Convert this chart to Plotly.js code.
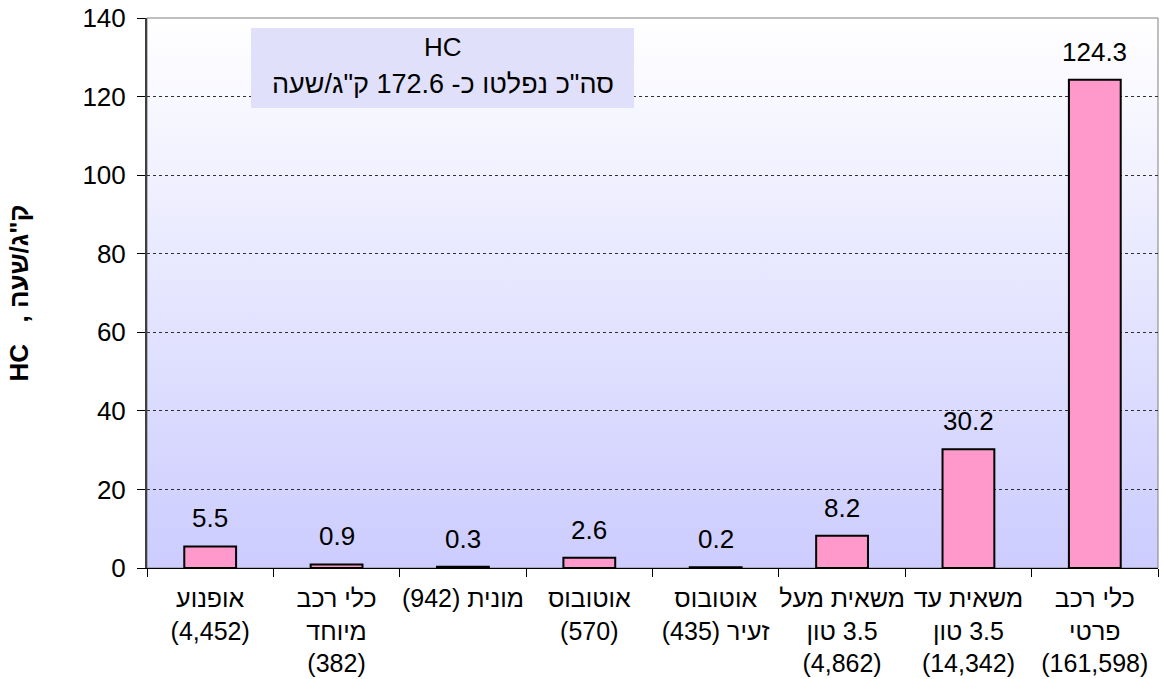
<!DOCTYPE html>
<html>
<head>
<meta charset="utf-8">
<script src="https://cdn.plot.ly/plotly-3.0.1.min.js"></script>
<style>html,body{margin:0;padding:0;background:#fff;}#chart{width:1162px;height:679px;}</style>
</head>
<body>
<div id="chart"></div>
<script>
// Bidi helper: force a line to right-to-left layout
const RTL = s => '\u202B' + s + '\u202C';

// Categories (left to right) with vehicle counts, as shown on the axis
const categories = [
  'אופנוע<br>(4,452)',
  'כלי רכב<br>מיוחד<br>(382)',
  RTL('מונית (942)'),
  'אוטובוס<br>(570)',
  'אוטובוס<br>' + RTL('זעיר (435)'),
  'משאית מעל<br>' + RTL('3.5 טון') + '<br>(4,862)',
  'משאית עד<br>' + RTL('3.5 טון') + '<br>(14,342)',
  'כלי רכב<br>פרטי<br>(161,598)'
];
// HC emissions, kg/hour
const hcValues = [5.5, 0.9, 0.3, 2.6, 0.2, 8.2, 30.2, 124.3];
const valueLabels = ['5.5', '0.9', '0.3', '2.6', '0.2', '8.2', '30.2', '124.3'];
const yTickVals = [0, 20, 40, 60, 80, 100, 120, 140];
const boxTitle = 'HC';
const boxSubtitle = RTL('סה"כ נפלטו כ- 172.6 ק"ג/שעה');
const yTitle = '\u00a0\u00a0\u00a0\u00a0\u00a0HC\u00a0\u00a0\u00a0, ק"ג/שעה';

const FONT = 'Liberation Sans, Arial, sans-serif';
const FS = 26;

const gradSvg = "<svg xmlns='http://www.w3.org/2000/svg' width='10' height='100' preserveAspectRatio='none'>" +
  "<defs><linearGradient id='g' x1='0' y1='0' x2='0' y2='1'>" +
  "<stop offset='0' stop-color='#ffffff'/><stop offset='1' stop-color='#ccccff'/>" +
  "</linearGradient></defs><rect width='10' height='100' fill='url(#g)'/></svg>";
const gradUri = 'data:image/svg+xml;charset=utf-8,' + encodeURIComponent(gradSvg);

const trace = {
  type: 'bar',
  x: categories,
  y: hcValues,
  marker: { color: '#ff99cc', line: { color: '#000000', width: 2 } },
  hoverinfo: 'x+y'
};

const valueAnnotations = categories.map((c, i) => ({
  x: c, y: hcValues[i], xref: 'x', yref: 'y',
  text: valueLabels[i], showarrow: false,
  yanchor: 'bottom', yshift: 11,
  font: { family: FONT, size: FS, color: '#000' }
}));

const layout = {
  width: 1162, height: 679,
  margin: { l: 147, r: 4, t: 18, b: 111 },
  paper_bgcolor: '#ffffff',
  plot_bgcolor: 'rgba(0,0,0,0)',
  showlegend: false,
  bargap: 0.59,
  font: { family: FONT, size: FS, color: '#000' },
  xaxis: {
    type: 'category',
    tickson: 'boundaries',
    tickangle: 0,
    automargin: false,
    ticks: 'outside', ticklen: 8, tickcolor: '#000', tickwidth: 1,
    showline: true, linecolor: '#000', linewidth: 1,
    showgrid: false,
    ticklabelstandoff: 8,
    tickfont: { family: FONT, size: 25, color: '#000' },
    fixedrange: true
  },
  yaxis: {
    range: [0, 140],
    tickvals: yTickVals,
    automargin: false,
    ticks: 'outside', ticklen: 8, tickcolor: '#000', tickwidth: 1,
    showline: true, linecolor: '#404040', linewidth: 2,
    showgrid: true, gridcolor: '#303030', gridwidth: 1, griddash: 'dot',
    zeroline: false,
    ticklabelstandoff: 6,
    tickfont: { family: FONT, size: FS, color: '#000' },
    title: { text: yTitle, font: { family: FONT, size: 26, color: '#000', weight: 'bold' }, standoff: 46 },
    fixedrange: true
  },
  images: [{
    source: gradUri, xref: 'paper', yref: 'paper',
    x: 0, y: 1, sizex: 1, sizey: 1, xanchor: 'left', yanchor: 'top',
    sizing: 'stretch', layer: 'below'
  }],
  shapes: [
    { type: 'rect', xref: 'paper', yref: 'paper', x0: 0, x1: 1, y0: 0, y1: 1,
      line: { color: '#808080', width: 1 }, fillcolor: 'rgba(0,0,0,0)', layer: 'below' },
    { type: 'rect', xref: 'paper', yref: 'paper', x0: 0.1029, x1: 0.4817, y0: 0.8364, y1: 0.9818,
      line: { width: 0 }, fillcolor: '#e0e0fa', layer: 'above' }
  ],
  annotations: valueAnnotations.concat([
    { xref: 'paper', yref: 'paper', x: 0.2923, y: 0.947, text: boxTitle, showarrow: false,
      xanchor: 'center', yanchor: 'middle', font: { family: FONT, size: FS, color: '#000' } },
    { xref: 'paper', yref: 'paper', x: 0.2923, y: 0.880, text: boxSubtitle, showarrow: false,
      xanchor: 'center', yanchor: 'middle', font: { family: FONT, size: 27, color: '#000' } }
  ])
};

Plotly.newPlot('chart', [trace], layout, { displayModeBar: false, staticPlot: true });
</script>
</body>
</html>
